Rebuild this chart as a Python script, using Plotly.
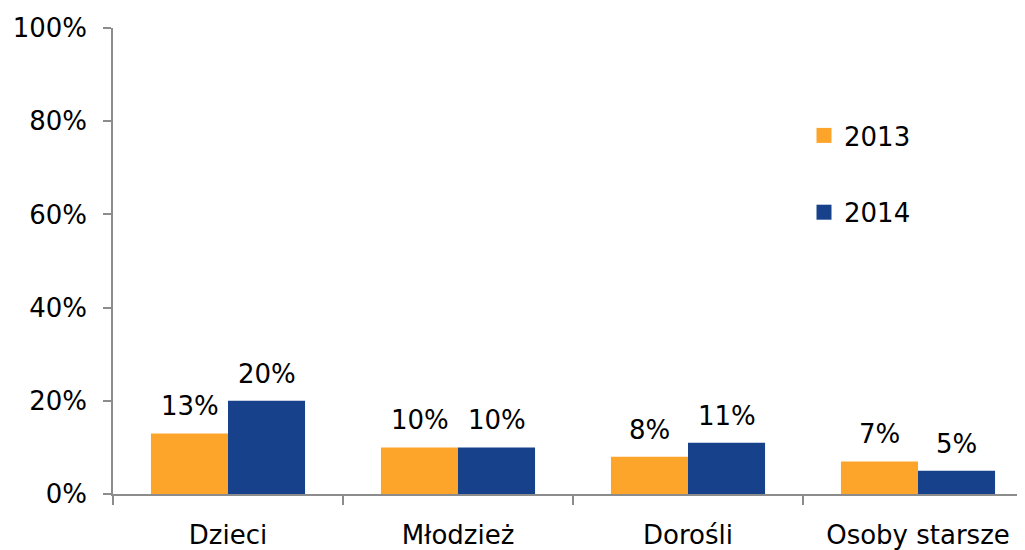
import plotly.graph_objects as go

categories = ["Dzieci", "Młodzież", "Dorośli", "Osoby starsze"]
years = ["2013", "2014"]
values_2013 = [13, 10, 8, 7]
values_2014 = [20, 10, 11, 5]
y_ticks = [0, 20, 40, 60, 80, 100]
y_tick_labels = ["0%", "20%", "40%", "60%", "80%", "100%"]

colors = ["#FCA52A", "#17428B"]
FONT = "Verdana, DejaVu Sans, sans-serif"
FS = 26
BAR_PX = 77

fig = go.Figure()
for name, vals, col in zip(years, [values_2013, values_2014], colors):
    fig.add_trace(go.Bar(x=categories, y=vals, name=name, marker_color=col,
                         marker_line_width=0, showlegend=False))
    fig.add_trace(go.Scatter(x=[None], y=[None], mode="markers", name=name,
                             legendgroup=name,
                             marker=dict(symbol="square", size=15, color=col)))

annotations = []
for k, vals in enumerate([values_2013, values_2014]):
    shift = (-0.5 + k) * BAR_PX
    for c, v in zip(categories, vals):
        annotations.append(dict(x=c, y=v, text=f"{v}%", showarrow=False,
                                xanchor="center", yanchor="bottom",
                                xshift=shift, yshift=10,
                                font=dict(family=FONT, size=FS, color="#000")))

# page has an 8px body margin: figure is sized to fit the 1025x550 window
fig.update_layout(
    width=1017, height=542,
    margin=dict(l=105, r=0, t=20, b=56),
    paper_bgcolor="white", plot_bgcolor="white",
    font=dict(family=FONT, size=FS, color="#000"),
    barmode="group", bargap=0.33, bargroupgap=0,
    annotations=annotations,
    legend=dict(x=(804 - 113) / 912, y=1 - (112 - 28) / 466,
                xanchor="left", yanchor="top",
                font=dict(family=FONT, size=FS),
                tracegroupgap=40, traceorder="grouped",
                bgcolor="rgba(0,0,0,0)"),
)
fig.update_xaxes(range=[-0.5, 3.5 - 8 / 230], showline=True, linecolor="#8C8C8C",
                 linewidth=1.5, ticks="outside", tickson="boundaries", ticklen=9,
                 tickcolor="#8C8C8C", tickwidth=1.5, showgrid=False,
                 ticklabelstandoff=17, automargin=False)
fig.update_yaxes(range=[0, 100], tickvals=y_ticks, ticktext=y_tick_labels,
                 showline=True, linecolor="#8C8C8C", linewidth=1.5,
                 ticks="outside", ticklen=8, tickcolor="#8C8C8C", tickwidth=1.5,
                 showgrid=False, zeroline=False, ticklabelstandoff=11,
                 automargin=False)

fig.write_html("out.html")
